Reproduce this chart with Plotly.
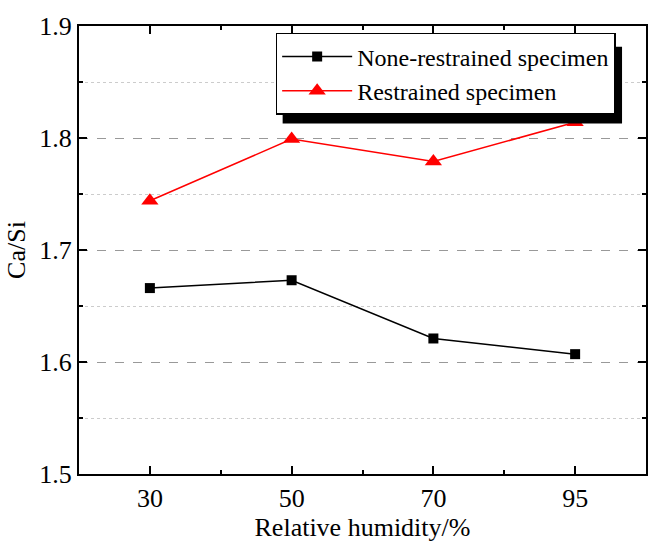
import plotly.graph_objects as go

categories = ["30", "50", "70", "95"]
none_restrained = [1.666, 1.673, 1.621, 1.607]
restrained = [1.744, 1.799, 1.779, 1.814]
y_ticks = [1.5, 1.6, 1.7, 1.8, 1.9]

xi = list(range(len(categories)))
FONT = "Liberation Serif"

fig = go.Figure()
fig.add_trace(go.Scatter(
    x=xi, y=none_restrained, mode="lines+markers", name="None-restrained specimen",
    line=dict(color="black", width=1.5),
    marker=dict(symbol="square", size=10, color="black"),
))
fig.add_trace(go.Scatter(
    x=xi, y=restrained, mode="lines+markers", name="Restrained specimen",
    line=dict(color="#ff0000", width=1.5),
    marker=dict(symbol="triangle-up", size=15, color="#ff0000"),
))

L, R, T, B = 79, 13, 19, 78
W, H = 660, 552
pw, ph = W - L - R, H - T - B

def px2paper(x, y):
    return (x - L) / pw, (H - B - y) / ph

x0, y0 = px2paper(283, 118)
x1, y1 = px2paper(623, 40)
fig.add_shape(type="rect", xref="paper", yref="paper", x0=x0, y0=y0, x1=x1, y1=y1,
              fillcolor="black", line=dict(width=0), layer="above")

lx, ly = px2paper(276, 26)
fig.update_layout(
    width=W, height=H,
    margin=dict(l=L, r=R, t=T, b=B),
    paper_bgcolor="white", plot_bgcolor="white",
    font=dict(family=FONT, color="black", size=26),
    showlegend=True,
    legend=dict(x=lx, y=ly, xanchor="left", yanchor="top",
                bgcolor="white", bordercolor="black", borderwidth=1.5,
                font=dict(family=FONT, size=24, color="black"),
                tracegroupgap=0, itemwidth=70),
    xaxis=dict(
        range=[-0.5, len(categories) - 0.5],
        tickmode="array", tickvals=xi, ticktext=categories,
        showline=True, linecolor="black", linewidth=2, mirror="allticks",
        ticks="inside", ticklen=8, tickwidth=2, tickcolor="black",
        showgrid=False, zeroline=False,
        tickfont=dict(family=FONT, size=26),
        minor=dict(tickmode="array", tickvals=[0.5, 1.5, 2.5], ticks="inside",
                   ticklen=4, tickwidth=2, tickcolor="black", showgrid=False),
        title=dict(text="Relative humidity/%", font=dict(family=FONT, size=26), standoff=4),
    ),
    yaxis=dict(
        range=[1.5, 1.9],
        tickmode="array", tickvals=y_ticks, tickformat=".1f",
        showline=True, linecolor="black", linewidth=2, mirror="allticks",
        ticks="inside", ticklen=8, tickwidth=2, tickcolor="black",
        showgrid=True, gridcolor="#999999", griddash="dash", gridwidth=1,
        zeroline=False,
        tickfont=dict(family=FONT, size=26),
        minor=dict(tickmode="array", tickvals=[1.55, 1.65, 1.75, 1.85], ticks="inside",
                   ticklen=4, tickwidth=2, tickcolor="black",
                   showgrid=True, gridcolor="#cccccc", griddash="dot", gridwidth=1),
        title=dict(text="Ca/Si", font=dict(family=FONT, size=26), standoff=6),
    ),
)

fig.write_html("out.html")
